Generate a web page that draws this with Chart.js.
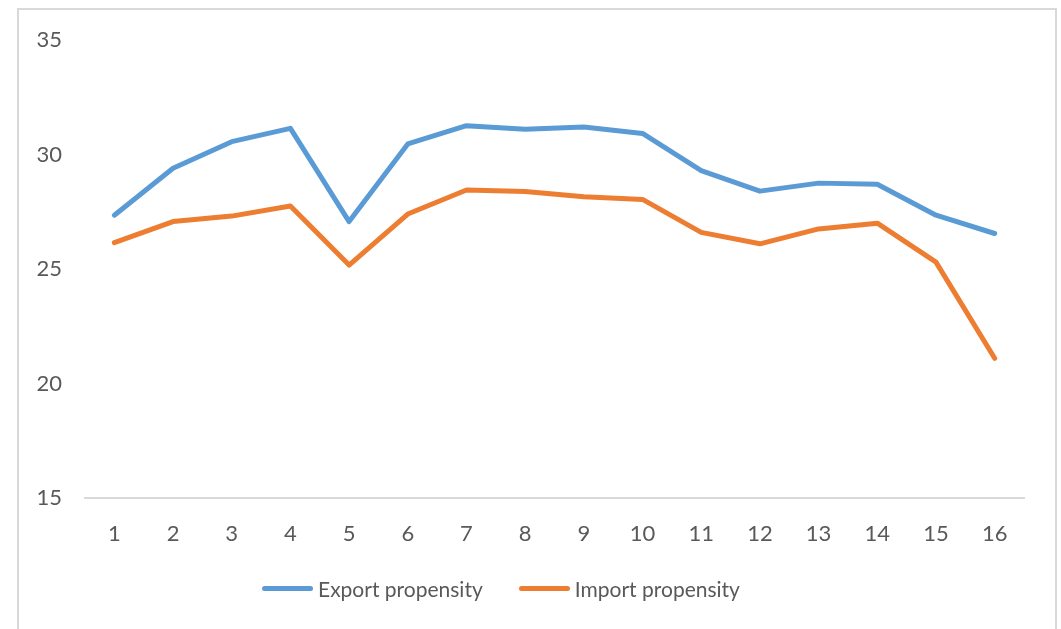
<!DOCTYPE html>
<html>
<head>
<meta charset="utf-8">
<script src="https://cdn.jsdelivr.net/npm/chart.js@4.4.1/dist/chart.umd.min.js"></script>
<style>
    html, body { margin: 0; padding: 0; background: #fff; overflow: hidden; }
    #frame {
        position: absolute;
        left: 17px;
        top: 8px;
        width: 1036px;
        height: 640px;
        border: 2px solid #d9d9d9;
    }
    #wrap { position: absolute; left: 0; top: 0; width: 1061px; height: 629px; }
    #legend {
        position: absolute;
        left: 262px;
        top: 576px;
        display: flex;
        align-items: center;
        font-family: Lato, "Open Sans", sans-serif;
        font-size: 21px;
        color: #595959;
        white-space: nowrap;
    }
    #legend .item { display: flex; align-items: center; margin-right: 36px; }
    #legend .swatch { width: 51px; height: 5px; border-radius: 3px; margin-right: 5px; }
</style>
</head>
<body>
<div id="frame"></div>
<div id="wrap"><canvas id="propensity-chart"></canvas></div>
<div id="legend"></div>
<script>
// periods 1..16
var periods = ['1', '2', '3', '4', '5', '6', '7', '8', '9', '10', '11', '12', '13', '14', '15', '16'];
var exportProp = [27.35, 29.4, 30.56, 31.14, 27.07, 30.46, 31.26, 31.1, 31.2, 30.92, 29.3, 28.4, 28.75, 28.7, 27.35, 26.55];
var importProp = [26.15, 27.07, 27.31, 27.75, 25.17, 27.4, 28.45, 28.38, 28.16, 28.04, 26.6, 26.1, 26.75, 27.0, 25.3, 21.1];
var yTicks = [15, 20, 25, 30, 35];

var textColor = '#595959';
var fontFamily = 'Lato, "Open Sans", sans-serif';

function lineSet(label, data, color) {
    return {
        label: label,
        data: data,
        borderColor: color,
        backgroundColor: color,
        borderWidth: 5,
        pointRadius: 0,
        tension: 0,
        borderCapStyle: 'round',
        borderJoinStyle: 'round'
    };
}

var ctx = document.getElementById('propensity-chart').getContext('2d');
var chart = new Chart(ctx, {
    type: 'line',
    data: {
        labels: periods,
        datasets: [
            lineSet('Export propensity', exportProp, '#5b9bd5'),
            lineSet('Import propensity', importProp, '#ed7d31')
        ]
    },
    options: {
        responsive: true,
        maintainAspectRatio: false,
        animation: false,
        layout: {
            padding: { left: 30, right: 37, top: 40, bottom: 71 }
        },
        plugins: {
            tooltip: { enabled: false },
            legend: { display: false }
        },
        scales: {
            x: {
                offset: true,
                grid: { display: false, drawTicks: false },
                border: { display: true, color: '#d9d9d9', width: 2 },
                ticks: {
                    color: textColor,
                    font: { family: fontFamily, size: 22 },
                    padding: 23,
                    maxRotation: 0
                },
                afterFit: function (scale) {
                    scale.height = 60;
                }
            },
            y: {
                min: 15,
                max: 35,
                grid: { display: false, drawTicks: false },
                border: { display: false },
                afterBuildTicks: function (scale) {
                    scale.ticks = yTicks.map(function (v) { return { value: v }; });
                },
                ticks: {
                    color: textColor,
                    font: { family: fontFamily, size: 22 },
                    padding: 23
                },
                afterFit: function (scale) {
                    scale.width = 55;
                }
            }
        }
    }
});

// legend below the plot, built from the datasets
var legendBox = document.getElementById('legend');
chart.data.datasets.forEach(function (ds) {
    var item = document.createElement('div');
    item.className = 'item';
    var sw = document.createElement('span');
    sw.className = 'swatch';
    sw.style.background = ds.borderColor;
    var txt = document.createElement('span');
    txt.textContent = ds.label;
    item.appendChild(sw);
    item.appendChild(txt);
    legendBox.appendChild(item);
});
</script>
</body>
</html>
